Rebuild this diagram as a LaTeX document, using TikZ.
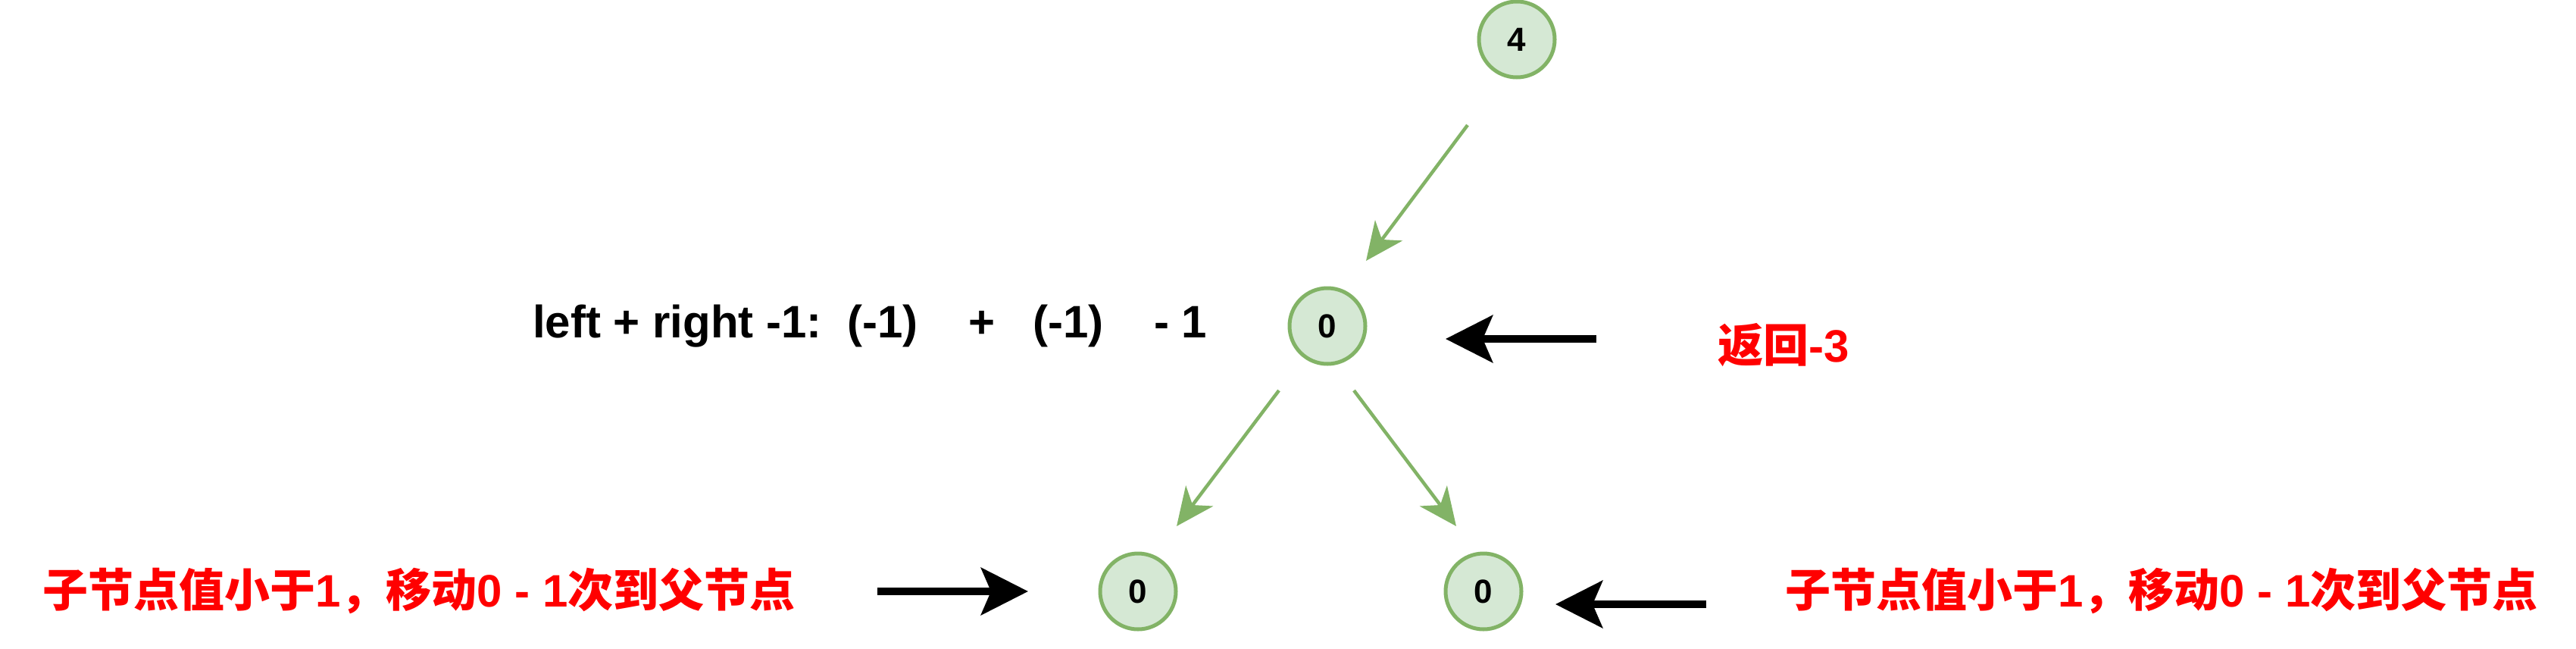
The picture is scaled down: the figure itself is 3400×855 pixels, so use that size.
\documentclass[tikz,border=0pt]{standalone}
\usepackage{fontspec}
\setmainfont{Liberation Sans}
\newfontfamily\cjk{Noto Sans CJK SC}
\usetikzlibrary{arrows.meta}
\definecolor{nodefill}{HTML}{D5E8D4}
\definecolor{nodeline}{HTML}{82B366}
\tikzset{
	treenode/.style={circle, draw=nodeline, fill=nodefill, line width=5pt, minimum size=100pt, inner sep=0pt, font=\fontsize{44}{53}\selectfont\bfseries},
	greenarrow/.style={draw=nodeline, line width=4.5pt, -{Stealth[length=50pt,width=45pt,inset=15pt,fill=nodeline]}},
	blackarrow/.style={line width=10pt, -{Stealth[length=62pt,width=62pt,inset=13pt]}},
	note/.style={anchor=base west, inner sep=0pt, text=red, font=\fontsize{60}{72}\selectfont\bfseries}
}
\begin{document}
\begin{tikzpicture}[x=1pt,y=-1pt]
		% Set the size of the page
		\useasboundingbox (0,0) rectangle (3400,855);
		
		% Draw the tree nodes
		\node[treenode] (four) at (2002,52) {4};
		\node[treenode] (mid) at (1752,430) {0};
		\node[treenode] (lchild) at (1502,780) {0};
		\node[treenode] (rchild) at (1958,780) {0};
		
		% Draw the notes
		\node[anchor=base west, inner sep=0pt, font=\fontsize{60}{72}\selectfont\bfseries] (sum) at (703,445) {left + right -1:\ \ (-1)\ \ \ \ +\ \ \ (-1)\ \ \ \ - 1};
		\node[note] (ret) at (2267,477) {{\cjk 返回}-3};
		\node[note] (lnote) at (56,800) {{\cjk 子节点值小于}1{\cjk ，移动}0 - 1{\cjk 次到父节点}};
		\node[note] (rnote) at (2356,800) {{\cjk 子节点值小于}1{\cjk ，移动}0 - 1{\cjk 次到父节点}};
		
		% Ends of the arrows
		\coordinate (fourOut) at (1937,165);
		\coordinate (midIn) at (1803,344);
		\coordinate (midOutL) at (1688,515);
		\coordinate (lchildIn) at (1553,694);
		\coordinate (midOutR) at (1787,515);
		\coordinate (rchildIn) at (1922,694);
		\coordinate (retTail) at (2107,447);
		\coordinate (retTip) at (1908,447);
		\coordinate (lnoteTail) at (1158,780);
		\coordinate (lnoteTip) at (1357,780);
		\coordinate (rnoteTail) at (2252,797);
		\coordinate (rnoteTip) at (2053,797);
		
		% Draw the arrows
		\draw[greenarrow] (fourOut) -- (midIn);
		\draw[greenarrow] (midOutL) -- (lchildIn);
		\draw[greenarrow] (midOutR) -- (rchildIn);
		\draw[blackarrow] (retTail) -- (retTip);
		\draw[blackarrow] (lnoteTail) -- (lnoteTip);
		\draw[blackarrow] (rnoteTail) -- (rnoteTip);
	\end{tikzpicture}
\end{document}
